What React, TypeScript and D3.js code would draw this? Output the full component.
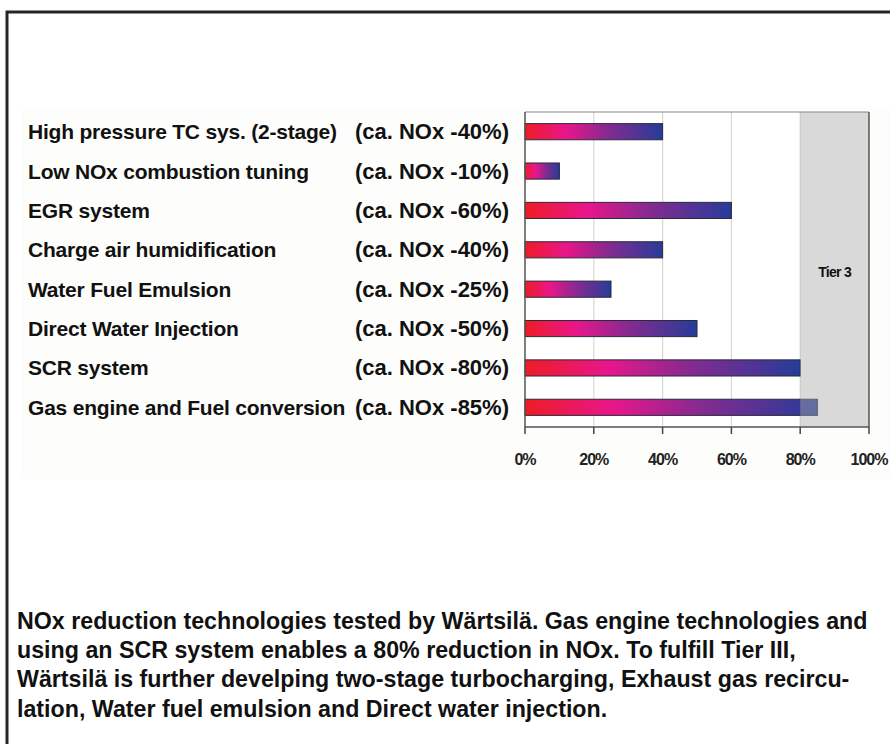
import * as d3 from "d3";

const technologies = [
  "High pressure TC sys. (2-stage)",
  "Low NOx combustion tuning",
  "EGR system",
  "Charge air humidification",
  "Water Fuel Emulsion",
  "Direct Water Injection",
  "SCR system",
  "Gas engine and Fuel conversion",
];
const reductions = [40, 10, 60, 40, 25, 50, 80, 85];
const tickValues = [0, 20, 40, 60, 80, 100];
const tierStart = 80;
const tierLabel = "Tier 3";
const captionLines = [
  "NOx reduction technologies tested by Wärtsilä. Gas engine technologies and",
  "using an SCR system enables a 80% reduction in NOx. To fulfill Tier III,",
  "Wärtsilä is further develping two-stage turbocharging, Exhaust gas recircu-",
  "lation, Water fuel emulsion and Direct water injection.",
];

const W = 890;
const H = 744;
const plot = { left: 525, right: 869, top: 112, bottom: 427 };
const font = "'Liberation Sans', Arial, sans-serif";

export default function App() {
  const x = d3.scaleLinear().domain([0, 100]).range([plot.left, plot.right]);
  const y = d3
    .scaleBand<string>()
    .domain(technologies)
    .range([plot.top, plot.bottom])
    .paddingInner(0.59)
    .paddingOuter(0.295);

  return (
    <svg
      width={W}
      height={H}
      style={{ position: "absolute", left: 0, top: 0, background: "#fff" }}
      fontFamily={font}
    >
      <defs>
        <linearGradient id="barGrad" x1="0" x2="1" y1="0" y2="0">
          <stop offset="0" stopColor="#ee1c25" />
          <stop offset="0.3" stopColor="#e8168a" />
          <stop offset="0.6" stopColor="#862a90" />
          <stop offset="1" stopColor="#263c99" />
        </linearGradient>
      </defs>

      {/* outer frame */}
      <path d={`M${W + 5},12 H7 V${H + 5}`} fill="none" stroke="#262626" strokeWidth={3} />

      {/* chart panel */}
      <rect x={22} y={107} width={W - 22} height={372} fill="#fdfdfb" />
      <rect x={plot.left} y={plot.top} width={plot.right - plot.left} height={plot.bottom - plot.top} fill="#fff" />

      {/* grid */}
      {tickValues.slice(1, -1).map((t) => (
        <line key={t} x1={x(t)} x2={x(t)} y1={plot.top} y2={plot.bottom} stroke="#d8d8d8" strokeWidth={1.2} />
      ))}

      {/* bars */}
      {technologies.map((name, i) => (
        <rect
          key={name}
          x={x(0)}
          y={y(name)}
          width={x(reductions[i]) - x(0)}
          height={y.bandwidth()}
          fill="url(#barGrad)"
          stroke="#2a2a3a"
          strokeWidth={1}
        />
      ))}

      {/* tier region */}
      <rect
        x={x(tierStart)}
        y={plot.top}
        width={x(100) - x(tierStart)}
        height={plot.bottom - plot.top}
        fill="#aaaaaa"
        fillOpacity={0.45}
      />
      <text x={(x(tierStart) + x(100)) / 2} y={277} textAnchor="middle" fontSize={14} fontWeight="bold" fill="#111" letterSpacing={-0.7}>
        {tierLabel}
      </text>

      {/* frame of plot */}
      <line x1={plot.left} x2={plot.right} y1={plot.top} y2={plot.top} stroke="#8a8a8a" strokeWidth={1.2} />
      <line x1={plot.right} x2={plot.right} y1={plot.top} y2={plot.bottom} stroke="#555" strokeWidth={1.5} />
      <line x1={plot.left} x2={plot.left} y1={plot.top} y2={plot.bottom} stroke="#555" strokeWidth={1.5} />
      <line x1={plot.left} x2={plot.right} y1={plot.bottom} y2={plot.bottom} stroke="#555" strokeWidth={1.5} />

      {/* x axis ticks */}
      {tickValues.map((t) => (
        <g key={t}>
          <line x1={x(t)} x2={x(t)} y1={plot.bottom} y2={plot.bottom + 7} stroke="#444" strokeWidth={1.5} />
          <text x={x(t)} y={plot.bottom + 38} textAnchor="middle" fontSize={16} fontWeight="bold" fill="#222" letterSpacing={-1}>
            {t}%
          </text>
        </g>
      ))}

      {/* category labels */}
      {technologies.map((name, i) => {
        const cy = (y(name) ?? 0) + y.bandwidth() / 2 + 7.5;
        return (
          <g key={name} fontWeight="bold" fill="#111">
            <text x={28} y={cy} fontSize={21} letterSpacing={-0.2}>{name}</text>
            <text x={509} y={cy} fontSize={22} textAnchor="end">{`(ca. NOx -${reductions[i]}%)`}</text>
          </g>
        );
      })}

      {/* caption */}
      <g fontSize={23} fontWeight="bold" fill="#111" transform="translate(17,0) scale(1.01,1)">
        {captionLines.map((line, i) => (
          <text key={i} x={0} y={629 + i * 29.2}>
            {line}
          </text>
        ))}
      </g>
    </svg>
  );
}
